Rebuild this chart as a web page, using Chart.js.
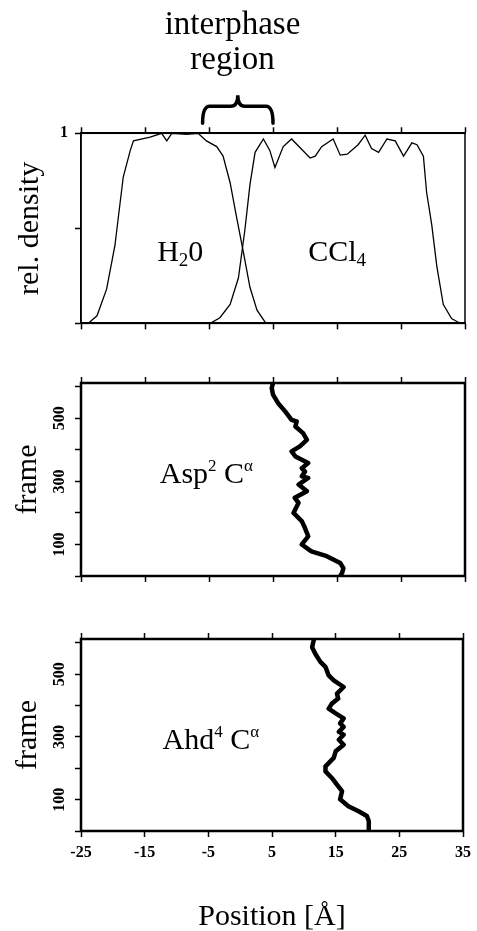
<!DOCTYPE html>
<html>
<head>
<meta charset="utf-8">
<script src="https://cdn.jsdelivr.net/npm/chart.js@4.4.1/dist/chart.umd.min.js"></script>
<style>
  html, body { margin: 0; padding: 0; background: #fff; overflow: hidden; }
  .panel { position: absolute; left: 0; width: 477px; }
</style>
</head>
<body>
<div class="panel" style="top:0"><canvas id="densityChart" width="477" height="340"></canvas></div>
<div class="panel" style="top:340px"><canvas id="aspChart" width="477" height="255"></canvas></div>
<div class="panel" style="top:595px"><canvas id="ahdChart" width="477" height="340"></canvas></div>
<script>
// position axis (Angstrom)
const positionTicks = [-25, -15, -5, 5, 15, 25, 35];
const frameLabels = [100, 300, 500];
const frameMax = 612;

// relative density profiles
const h2oX = [-25, -23.9, -22.5, -21.0, -19.7, -18.4, -17.3, -16.8, -14.2, -12.4, -11.6, -10.8, -8.5, -6.7, -5.4, -3.8, -2.8, -1.7, -0.7, 0.4, 1.4, 2.5, 3.8, 5, 35];
const h2oY = [0, 0, 0.04, 0.18, 0.41, 0.77, 0.91, 0.96, 0.98, 1.0, 0.96, 1.0, 0.995, 1.0, 0.96, 0.93, 0.88, 0.74, 0.56, 0.37, 0.19, 0.07, 0.005, 0, 0];
const cclX = [-25, -4.8, -3.3, -1.7, -0.4, 0.6, 1.4, 2.2, 3.5, 4.5, 5.3, 6.6, 7.9, 10.8, 11.6, 12.6, 14.4, 15.5, 16.6, 18.3, 19.4, 20.4, 21.5, 22.8, 24.1, 25.4, 26.7, 27.5, 28.5, 29.0, 29.8, 30.6, 31.6, 32.9, 34.0, 35];
const cclY = [0, 0, 0.03, 0.10, 0.24, 0.49, 0.73, 0.90, 0.97, 0.91, 0.82, 0.93, 0.97, 0.87, 0.88, 0.93, 0.97, 0.885, 0.89, 0.94, 0.99, 0.92, 0.90, 0.97, 0.96, 0.88, 0.95, 0.94, 0.88, 0.69, 0.52, 0.30, 0.10, 0.026, 0.005, 0];

// C-alpha trajectories: position vs frame
const aspFrame = [0, 10, 25, 41, 63, 78, 100, 126, 152, 174, 200, 232, 248, 269, 290, 311, 316, 331, 342, 358, 379, 395, 411, 432, 453, 474, 490, 495, 522, 548, 575, 596, 612];
const aspX = [15.5, 15.8, 16.0, 15.5, 13.4, 11.0, 9.5, 10.5, 10.0, 9.5, 8.2, 9.0, 8.4, 10.3, 9.0, 10.5, 9.5, 10.0, 9.5, 10.5, 8.5, 7.9, 9.2, 10.3, 9.7, 8.5, 8.7, 7.9, 6.9, 5.8, 5.0, 4.8, 5.0];
const ahdFrame = [0, 10, 32, 48, 63, 79, 101, 127, 148, 169, 190, 206, 233, 254, 275, 291, 307, 316, 332, 343, 359, 375, 390, 406, 422, 438, 459, 480, 496, 523, 539, 565, 586, 612];
const ahdX = [20.2, 20.2, 20.2, 19.9, 18.6, 17.0, 15.7, 16.0, 15.2, 14.4, 13.4, 13.4, 14.7, 15.0, 16.25, 15.5, 16.25, 15.5, 16.25, 15.7, 16.25, 15.0, 13.9, 14.4, 15.4, 15.2, 16.25, 14.7, 13.9, 13.4, 12.6, 11.8, 11.3, 11.6];

const SERIF = "'Liberation Serif', 'Times New Roman', serif";
Chart.defaults.font.family = SERIF;
Chart.defaults.color = "#000";
Chart.defaults.animation = false;

function pairs(xs, ys) {
  return xs.map((x, i) => ({ x: x, y: ys[i] }));
}

function drawRich(ctx, x, y, runs) {
  let cx = x;
  runs.forEach((r) => {
    ctx.font = (r.size || 30) + "px " + SERIF;
    ctx.fillText(r.text, cx, y + (r.dy || 0));
    cx += ctx.measureText(r.text).width;
  });
}

// box round the plot area + labels placed in data coordinates
const framePlugin = {
  id: "frame",
  afterDraw(chart, args, opts) {
    const { ctx, chartArea: a, scales } = chart;
    ctx.save();
    ctx.strokeStyle = "#000";
    ctx.lineWidth = opts.width || 2;
    ctx.strokeRect(a.left, a.top, a.right - a.left, a.bottom - a.top);
    ctx.fillStyle = "#000";
    ctx.textBaseline = "alphabetic";
    ctx.textAlign = "left";
    (opts.labels || []).forEach((lb) => {
      drawRich(ctx, scales.x.getPixelForValue(lb.x), scales.y.getPixelForValue(lb.y), lb.runs);
    });
    if (opts.brace) {
      const x1 = scales.x.getPixelForValue(opts.brace[0]);
      const x2 = scales.x.getPixelForValue(opts.brace[1]);
      const xc = (x1 + x2) / 2;
      const yb = a.top - 10, ym = a.top - 27, yt = a.top - 38;
      ctx.lineWidth = 3.5;
      ctx.lineCap = "round";
      ctx.beginPath();
      ctx.moveTo(x1, yb);
      ctx.quadraticCurveTo(x1, ym, x1 + 7, ym);
      ctx.lineTo(xc - 7, ym);
      ctx.quadraticCurveTo(xc, ym, xc, yt);
      ctx.quadraticCurveTo(xc, ym, xc + 7, ym);
      ctx.lineTo(x2 - 7, ym);
      ctx.quadraticCurveTo(x2, ym, x2, yb);
      ctx.stroke();
    }
    ctx.restore();
  }
};

function positionAxis(height, showLabels, extra) {
  return Object.assign({
    type: "linear",
    position: "bottom",
    min: positionTicks[0],
    max: positionTicks[positionTicks.length - 1],
    afterFit: (s) => { s.height = height; },
    ticks: {
      stepSize: positionTicks[1] - positionTicks[0],
      display: showLabels,
      padding: 6,
      font: { size: 16, weight: "bold" }
    },
    grid: { drawOnChartArea: false, tickLength: 6, tickWidth: 1.5, tickColor: "#000" },
    border: { display: true, color: "#000", width: 2 }
  }, extra || {});
}

function topAxis() {
  return positionAxis(6, false, { position: "top" });
}

function frameAxis() {
  return {
    type: "linear",
    min: 0,
    max: frameMax,
    afterFit: (s) => { s.width = 81; },
    ticks: {
      stepSize: 100,
      includeBounds: false,
      minRotation: 90,
      maxRotation: 90,
      crossAlign: "center",
      padding: 3,
      font: { size: 16, weight: "bold" },
      callback: (v) => (frameLabels.includes(v) ? String(v) : "")
    },
    grid: { drawOnChartArea: false, tickLength: 6, tickWidth: 1.5, tickColor: "#000" },
    border: { display: true, color: "#000", width: 2 },
    title: { display: true, text: "frame", font: { size: 30 }, padding: { top: 10 } }
  };
}

const densityCtx = document.getElementById("densityChart");
new Chart(densityCtx, {
  type: "scatter",
  data: {
    datasets: [
      { label: "H2O", data: pairs(h2oX, h2oY), showLine: true, borderColor: "#000", borderWidth: 1.3, pointRadius: 0 },
      { label: "CCl4", data: pairs(cclX, cclY), showLine: true, borderColor: "#000", borderWidth: 1.3, pointRadius: 0 }
    ]
  },
  options: {
    responsive: false,
    layout: { padding: { left: 0, right: 12, top: 0, bottom: 0 } },
    plugins: {
      legend: { display: false },
      tooltip: { enabled: false },
      title: {
        display: true,
        text: ["interphase", "region"],
        color: "#000",
        font: { size: 33, weight: "normal", lineHeight: 1.05 },
        padding: { top: 8, bottom: 50 }
      },
      frame: {
        width: 1.5,
        brace: [-6, 5],
        labels: [
          { x: -13.1, y: 0.33, runs: [{ text: "H" }, { text: "2", size: 19, dy: 5 }, { text: "0" }] },
          { x: 10.5, y: 0.33, runs: [{ text: "CCl" }, { text: "4", size: 19, dy: 5 }] }
        ]
      }
    },
    scales: {
      x: positionAxis(15, false),
      x2: topAxis(),
      y: {
        type: "linear",
        min: 0,
        max: 1,
        afterFit: (s) => { s.width = 81; },
        ticks: {
          stepSize: 0.5,
          padding: 7,
          font: { size: 16, weight: "bold" },
          callback: (v) => (v === 1 ? "1" : "")
        },
        grid: { drawOnChartArea: false, tickLength: 6, tickWidth: 1.5, tickColor: "#000" },
        border: { display: true, color: "#000", width: 1.5 },
        title: { display: true, text: "rel. density", font: { size: 30 }, padding: { top: 12 } }
      }
    }
  },
  plugins: [framePlugin]
});

const aspCtx = document.getElementById("aspChart");
new Chart(aspCtx, {
  type: "scatter",
  data: {
    datasets: [
      { label: "Asp2", data: pairs(aspX, aspFrame), showLine: true, borderColor: "#000", borderWidth: 4.5, borderJoinStyle: "round", pointRadius: 0 }
    ]
  },
  options: {
    responsive: false,
    layout: { padding: { left: 0, right: 12, top: 37, bottom: 0 } },
    plugins: {
      legend: { display: false },
      tooltip: { enabled: false },
      frame: {
        width: 2.5,
        labels: [
          { x: -12.7, y: 294, runs: [{ text: "Asp" }, { text: "2", size: 17, dy: -12 }, { text: " C" }, { text: "\u03b1", size: 17, dy: -12 }] }
        ]
      }
    },
    scales: {
      x: positionAxis(19, false),
      x2: topAxis(),
      y: frameAxis()
    }
  },
  plugins: [framePlugin]
});

const ahdCtx = document.getElementById("ahdChart");
new Chart(ahdCtx, {
  type: "scatter",
  data: {
    datasets: [
      { label: "Ahd4", data: pairs(ahdX, ahdFrame), showLine: true, borderColor: "#000", borderWidth: 4.5, borderJoinStyle: "round", pointRadius: 0 }
    ]
  },
  options: {
    responsive: false,
    layout: { padding: { left: 0, right: 12, top: 38, bottom: 0 } },
    plugins: {
      legend: { display: false },
      tooltip: { enabled: false },
      frame: {
        width: 2.5,
        labels: [
          { x: -12.2, y: 260, runs: [{ text: "Ahd" }, { text: "4", size: 17, dy: -12 }, { text: " C" }, { text: "\u03b1", size: 17, dy: -12 }] }
        ]
      }
    },
    scales: {
      x: positionAxis(104, true, {
        title: { display: true, text: "Position [\u00c5]", font: { size: 30 }, padding: { top: 4, bottom: 0 } }
      }),
      x2: topAxis(),
      y: frameAxis()
    }
  },
  plugins: [framePlugin]
});
</script>
</body>
</html>
